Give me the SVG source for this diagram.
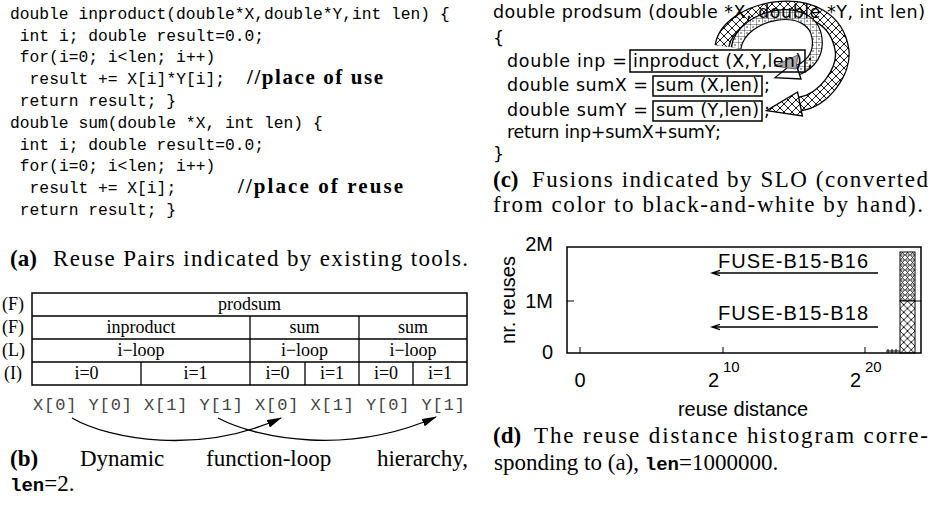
<svg xmlns="http://www.w3.org/2000/svg" width="932" height="510" viewBox="0 0 932 510">
<defs>
<style>
.code{font-family:"Liberation Mono","DejaVu Sans Mono",monospace;font-size:16.3px;fill:#000}
.cmb{font-family:"Liberation Serif","DejaVu Serif",serif;font-weight:bold;font-size:21px}
.cap{font-family:"Liberation Serif","DejaVu Serif",serif;font-size:23px}
.capb{font-family:"Liberation Serif","DejaVu Serif",serif;font-size:23px;font-weight:bold}
.tt{font-family:"Liberation Mono",monospace;font-size:19px;font-weight:bold}
.tab{font-family:"Liberation Serif",serif;font-size:18px;text-anchor:middle}
.lvl{font-family:"Liberation Serif",serif;font-size:18px}
.addr{font-family:"Liberation Mono",monospace;font-size:17px;fill:#444}
.sans{font-family:"DejaVu Sans","Open Sans",sans-serif;font-size:17.5px}
.ax{font-family:"Liberation Sans",Arial,sans-serif;font-size:20px}
.sup{font-family:"Liberation Sans",Arial,sans-serif;font-size:15px}
.ln{fill:none;stroke:#000;stroke-width:1.3}
.box{fill:none;stroke:#000;stroke-width:1.5}
.band{fill:none;stroke:#000}
</style>
<marker id="ah" markerWidth="15" markerHeight="8" refX="14" refY="4" orient="auto" markerUnits="userSpaceOnUse"><path d="M0,0 L15,4 L0,8 z" fill="#000"/></marker>
<pattern id="xh" width="8" height="8" patternUnits="userSpaceOnUse"><rect width="8" height="8" fill="#fff"/><path d="M0,0 L8,8 M8,0 L0,8" stroke="#000" stroke-width="0.9"/></pattern>
<pattern id="grid" width="6" height="6" patternUnits="userSpaceOnUse"><rect width="6" height="6" fill="#fff"/><path d="M0,0 H6 M0,0 V6" stroke="#000" stroke-width="0.7"/><circle cx="3" cy="3" r="0.7" fill="#000"/></pattern>
<pattern id="xo" width="5" height="5" patternUnits="userSpaceOnUse" x="900" y="250"><rect width="5" height="5" fill="#fff"/><path d="M0,0 L5,5 M5,0 L0,5" stroke="#000" stroke-width="0.6"/><circle cx="2.5" cy="0" r="1.1" fill="none" stroke="#000" stroke-width="0.5"/><circle cx="2.5" cy="5" r="1.1" fill="none" stroke="#000" stroke-width="0.5"/></pattern>
<pattern id="hx" width="7.5" height="7.5" patternUnits="userSpaceOnUse" x="900" y="301"><rect width="7.5" height="7.5" fill="#fff"/><path d="M0,0 L7.5,7.5 M7.5,0 L0,7.5" stroke="#000" stroke-width="0.9"/></pattern>
</defs>
<rect width="932" height="510" fill="#fff"/>

<g id="code-a">
<text class="code" x="10" y="19">double inproduct(double*X,double*Y,int len) {</text>
<text class="code" x="19.8" y="41">int i; double result=0.0;</text>
<text class="code" x="19.8" y="62">for(i=0; i&lt;len; i++)</text>
<text class="code" x="29.6" y="84">result += X[i]*Y[i];</text>
<text class="cmb" x="247" y="84" textLength="136">//place of use</text>
<text class="code" x="19.8" y="106">return result; }</text>
<text class="code" x="10" y="128">double sum(double *X, int len) {</text>
<text class="code" x="19.8" y="150">int i; double result=0.0;</text>
<text class="code" x="19.8" y="171">for(i=0; i&lt;len; i++)</text>
<text class="code" x="29.6" y="193">result += X[i];</text>
<text class="cmb" x="238" y="193" textLength="165">//place of reuse</text>
<text class="code" x="19.8" y="215">return result; }</text>
</g>
<g id="caption-a">
<text class="capb" x="10" y="266">(a)</text>
<text class="cap" x="53" y="266" textLength="415">Reuse Pairs indicated by existing tools.</text>
</g>

<g id="hierarchy">
<rect class="box" x="32" y="293" width="435" height="92" stroke-width="1.3"/>
<path class="ln" d="M32,316 H467 M32,339 H467 M32,362 H467 M250,316 V385 M359,316 V385 M141,362 V385 M305,362 V385 M413,362 V385"/>
<text class="lvl" x="2" y="310">(F)</text>
<text class="lvl" x="2" y="333">(F)</text>
<text class="lvl" x="2" y="356">(L)</text>
<text class="lvl" x="4" y="379">(I)</text>
<text class="tab" x="249.5" y="310">prodsum</text>
<text class="tab" x="141" y="333">inproduct</text>
<text class="tab" x="304.5" y="333">sum</text>
<text class="tab" x="413" y="333">sum</text>
<text class="tab" x="141" y="356">i−loop</text>
<text class="tab" x="304.5" y="356">i−loop</text>
<text class="tab" x="413" y="356">i−loop</text>
<text class="tab" x="86.5" y="379">i=0</text>
<text class="tab" x="195.5" y="379">i=1</text>
<text class="tab" x="277.5" y="379">i=0</text>
<text class="tab" x="332" y="379">i=1</text>
<text class="tab" x="386" y="379">i=0</text>
<text class="tab" x="440" y="379">i=1</text>
<text class="addr" x="33" y="410" textLength="432">X[0] Y[0] X[1] Y[1] X[0] X[1] Y[0] Y[1]</text>
</g>
<g id="caption-b">
<text class="capb" x="10" y="466">(b)</text>
<text class="cap" x="80" y="466">Dynamic</text>
<text class="cap" x="206" y="466">function-loop</text>
<text class="cap" x="468" y="466" text-anchor="end">hierarchy,</text>
<text x="10" y="491"><tspan class="tt">len</tspan><tspan class="cap">=2.</tspan></text>
</g>

<g id="connectors">
<path d="M72,418 C110,440 200,455 281,418" class="ln" marker-end="url(#ah)"/>
<path d="M218,418 C260,440 350,455 436,417" class="ln" marker-end="url(#ah)"/>
<g id="fusion-outer">
<path class="band" stroke-width="15" d="M722,46 C728,5 832,-15 842,50 C845,70 825,100 800,104"/>
<path fill="none" stroke="url(#xh)" stroke-width="12.4" d="M722,46 C728,5 832,-15 842,50 C845,70 825,100 800,104"/>
<polygon points="802.4,116 797.6,92 766.5,110.7" fill="url(#xh)" stroke="#000" stroke-width="1.3"/>
</g>
<g id="fusion-inner">
<path class="band" stroke-width="11" d="M736,48 C742,12 812,0 817,38 C819,53 812,64 798,70"/>
<path fill="none" stroke="url(#grid)" stroke-width="8.6" d="M736,48 C742,12 812,0 817,38 C819,53 812,64 798,70"/>
<polygon points="801,79 795,61.5 775,77.6" fill="#fff" stroke="#000" stroke-width="1.3"/>
</g>
<polygon id="fusion-gray" points="798,55 796,69 774,66" fill="#aaa" stroke="#666" stroke-width="1"/>
<path class="ln" d="M878,273 H712 M720,270.3 L712,273 L720,275.7" stroke-width="1.2"/>
<path class="ln" d="M878,327 H712 M720,324.3 L712,327 L720,329.7" stroke-width="1.2"/>
</g>

<g id="code-c">
<text class="sans" x="493" y="18" textLength="432">double prodsum (double *X, double *Y, int len)</text>
<text class="sans" x="493" y="44">{</text>
<text class="sans" x="507" y="67" textLength="120">double inp =</text>
<g id="box-inproduct"><rect class="box" x="630" y="50" width="175" height="22"/>
<text class="sans" x="633" y="67" textLength="169">inproduct (X,Y,len)</text></g>
<text class="sans" x="807" y="67">;</text>
<text class="sans" x="507" y="91" textLength="141">double sumX =</text>
<g id="box-sumX"><rect class="box" x="653" y="76" width="109" height="20"/>
<text class="sans" x="656" y="91" textLength="103">sum (X,len)</text></g>
<text class="sans" x="764" y="91">;</text>
<text class="sans" x="507" y="116" textLength="141">double sumY =</text>
<g id="box-sumY"><rect class="box" x="653" y="101" width="109" height="20"/>
<text class="sans" x="656" y="116" textLength="103">sum (Y,len)</text></g>
<text class="sans" x="764" y="116">;</text>
<text class="sans" x="507" y="138" textLength="214">return inp+sumX+sumY;</text>
<text class="sans" x="493" y="160">}</text>
</g>
<g id="caption-c">
<text class="capb" x="493" y="187">(c)</text>
<text class="cap" x="532" y="187" textLength="396">Fusions indicated by SLO (converted</text>
<text class="cap" x="493" y="212" textLength="430">from color to black-and-white by hand).</text>
</g>

<g id="histogram">
<rect x="900" y="252" width="15" height="49" fill="url(#xo)" stroke="#000" stroke-width="1"/>
<rect x="900" y="301" width="15" height="52" fill="url(#hx)" stroke="#000" stroke-width="1"/>
<path d="M886,351 H900 M888,349 V353 M892,349 V353 M896,349 V353" stroke="#000" stroke-width="1"/>
<rect x="567" y="247" width="354" height="106" fill="none" stroke="#000" stroke-width="1.5"/>
<path d="M567,301 H574 M921,301 H914 M580,353 V347 M723,353 V347 M865,353 V347" stroke="#000" stroke-width="1"/>
<text class="ax" x="553" y="251" text-anchor="end">2M</text>
<text class="ax" x="553" y="308" text-anchor="end">1M</text>
<text class="ax" x="553" y="359" text-anchor="end">0</text>
<text class="ax" x="580" y="387" text-anchor="middle">0</text>
<text class="ax" x="708" y="387">2</text><text class="sup" x="723" y="372">10</text>
<text class="ax" x="850" y="387">2</text><text class="sup" x="865" y="372">20</text>
<text class="ax" x="743" y="416" text-anchor="middle" font-size="19">reuse distance</text>
<text class="ax" transform="translate(515,300) rotate(-90)" text-anchor="middle">nr. reuses</text>
<text class="ax" x="718" y="268" textLength="150" font-size="19">FUSE-B15-B16</text>
<text class="ax" x="718" y="320" textLength="150" font-size="19">FUSE-B15-B18</text>
</g>
<g id="caption-d">
<text class="capb" x="493" y="443">(d)</text>
<text class="cap" x="534" y="443" textLength="394">The reuse distance histogram corre-</text>
<text x="494" y="470"><tspan class="cap">sponding to (a), </tspan><tspan class="tt">len</tspan><tspan class="cap">=1000000.</tspan></text>
</g>
</svg>
